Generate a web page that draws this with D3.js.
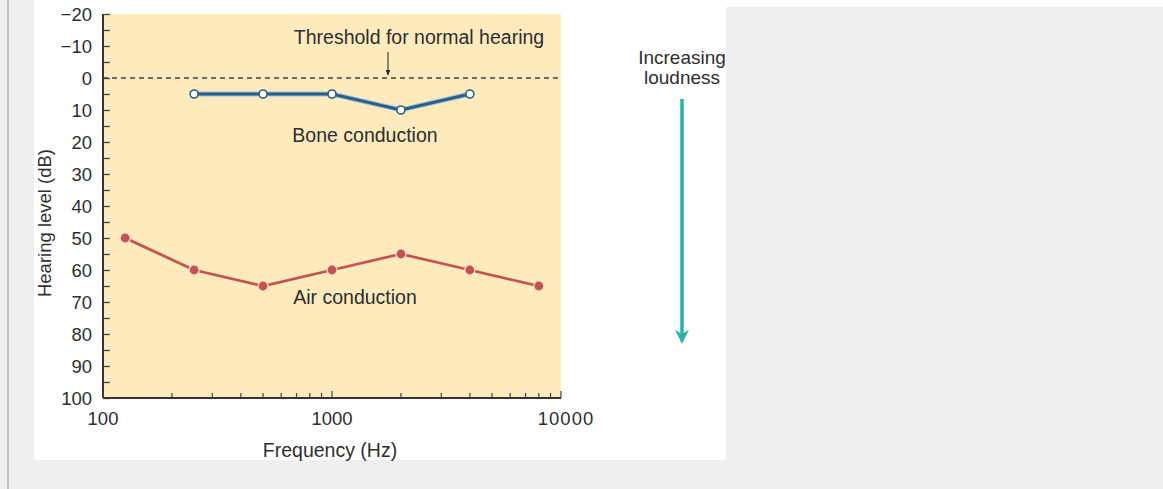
<!DOCTYPE html>
<html><head><meta charset="utf-8">
<script src="https://cdn.jsdelivr.net/npm/d3@7"></script>
<style>
html,body{margin:0;padding:0;background:#efefef;}
svg{display:block;font-family:"Liberation Sans",Arial,sans-serif;}
</style></head>
<body>
<svg id="c" width="1163" height="489"></svg>
<script>
const airFreq = [125, 250, 500, 1000, 2000, 4000, 8000];
const airLevel = [50, 60, 65, 60, 55, 60, 65];
const boneFreq = [250, 500, 1000, 2000, 4000];
const boneLevel = [5, 5, 5, 10, 5];
const yTicks = [-20, -10, 0, 10, 20, 30, 40, 50, 60, 70, 80, 90, 100];
const xTicks = [100, 1000, 10000];

const svg = d3.select("#c");
// page frame
svg.append("rect").attr("x",0).attr("y",0).attr("width",1163).attr("height",489).attr("fill","#efefef");
svg.append("rect").attr("x",34).attr("y",0).attr("width",1129).attr("height",7).attr("fill","#ffffff");
svg.append("rect").attr("x",34).attr("y",0).attr("width",692).attr("height",460).attr("fill","#ffffff");
svg.append("rect").attr("x",7).attr("y",0).attr("width",2).attr("height",489).attr("fill","#c4c4c4");

const x = d3.scaleLog().domain([100, 10000]).range([103, 561]);
const y = d3.scaleLinear().domain([-20, 100]).range([14, 398]);

svg.append("rect").attr("x", x(100)).attr("y", y(-20))
  .attr("width", x(10000) - x(100)).attr("height", y(100) - y(-20)).attr("fill", "#fdebbd");

const TXT = "#2e2e2e";
// y axis
const yAxis = d3.axisRight(y).tickValues(d3.range(-20, 101, 5)).tickSize(7).tickFormat("");
const gy = svg.append("g").attr("transform", `translate(${x(100)},0)`).call(yAxis);
gy.select(".domain").attr("stroke","#333").attr("stroke-width",2).attr("d", `M0,${y(-20)}V${y(100)}`);
gy.selectAll(".tick line").attr("stroke","#444").attr("stroke-width",1.3);
svg.append("g").selectAll("text").data(yTicks).join("text")
  .attr("x", 92).attr("y", d => y(d)).attr("dy","0.36em").attr("text-anchor","end")
  .attr("font-size", 18.5).attr("fill",TXT)
  .text(d => d < 0 ? "\u2212" + Math.abs(d) : d);

// x axis
const minorX = [];
[100, 1000].forEach(b => { for (let k = 2; k <= 9; k++) minorX.push(b * k); });
const gx = svg.append("g").attr("transform", `translate(0,${y(100)})`);
gx.append("line").attr("x1", x(100)).attr("x2", x(10000)).attr("y1",0).attr("y2",0).attr("stroke","#333").attr("stroke-width",2);
gx.selectAll("line.mn").data(minorX).join("line").attr("class","mn")
  .attr("x1", d => x(d)).attr("x2", d => x(d)).attr("y1", 0).attr("y2", -5).attr("stroke","#444").attr("stroke-width",1.2);
gx.selectAll("line.mj").data(xTicks).join("line").attr("class","mj")
  .attr("x1", d => x(d)).attr("x2", d => x(d)).attr("y1", 0).attr("y2", -7).attr("stroke","#444").attr("stroke-width",1.2);
gx.selectAll("text").data(xTicks).join("text")
  .attr("x", d => x(d) + (d === 10000 ? 5 : 0)).attr("y", 20).attr("dy","0.36em").attr("text-anchor","middle")
  .attr("font-size", 18.5).attr("fill",TXT).attr("letter-spacing", d => d === 10000 ? 1 : 0).text(d => d);

// axis titles
svg.append("text").attr("x", 330).attr("y", 450).attr("dy","0.36em").attr("text-anchor","middle")
  .attr("font-size", 19.5).attr("fill",TXT).text("Frequency (Hz)");
svg.append("text").attr("transform","translate(44,223) rotate(-90)").attr("dy","0.36em").attr("text-anchor","middle")
  .attr("font-size", 18.5).attr("fill",TXT).text("Hearing level (dB)");

// threshold line
svg.append("line").attr("x1", x(100)).attr("x2", x(10000)).attr("y1", y(0)).attr("y2", y(0))
  .attr("stroke","#444").attr("stroke-width",1.3).attr("stroke-dasharray","5,4");
svg.append("text").attr("x", 419).attr("y", 37).attr("dy","0.36em").attr("text-anchor","middle")
  .attr("font-size", 19.5).attr("fill",TXT).text("Threshold for normal hearing");
svg.append("defs").html(`<marker id="ah" viewBox="0 0 10 10" refX="9" refY="5" markerWidth="6" markerHeight="6" orient="auto"><path d="M0,1L10,5L0,9z" fill="#222"/></marker>
<marker id="ah2" viewBox="0 0 10 10" refX="8" refY="5" markerWidth="4" markerHeight="4" orient="auto"><path d="M0,0L10,5L0,10L3,5z" fill="#27b3a7"/></marker>`);
svg.append("line").attr("x1", 388).attr("x2", 388).attr("y1", 52).attr("y2", y(0) - 3)
  .attr("stroke","#222").attr("stroke-width",1).attr("marker-end","url(#ah)");

// series
const line = d3.line().x(d => x(d[0])).y(d => y(d[1]));
const bone = boneFreq.map((f,i) => [f, boneLevel[i]]);
const air = airFreq.map((f,i) => [f, airLevel[i]]);

svg.append("path").datum(bone).attr("d", line).attr("fill","none").attr("stroke","#9fc3da").attr("stroke-width",5);
svg.append("path").datum(bone).attr("d", line).attr("fill","none").attr("stroke","#2b5f86").attr("stroke-width",3);
svg.append("g").selectAll("circle").data(bone).join("circle")
  .attr("cx", d => x(d[0])).attr("cy", d => y(d[1])).attr("r", 4)
  .attr("fill","#ffffff").attr("stroke","#2b5f86").attr("stroke-width",1.6);

svg.append("path").datum(air).attr("d", line).attr("fill","none").attr("stroke","#c4524f").attr("stroke-width",2.8);
svg.append("g").selectAll("circle").data(air).join("circle")
  .attr("cx", d => x(d[0])).attr("cy", d => y(d[1])).attr("r", 5)
  .attr("fill","#c4524f").attr("stroke","#f6e0c8").attr("stroke-width",1.2);

svg.append("text").attr("x", 365).attr("y", 135).attr("dy","0.36em").attr("text-anchor","middle")
  .attr("font-size", 19.5).attr("fill",TXT).text("Bone conduction");
svg.append("text").attr("x", 355).attr("y", 297).attr("dy","0.36em").attr("text-anchor","middle")
  .attr("font-size", 19.5).attr("fill",TXT).text("Air conduction");

// loudness arrow
svg.append("text").attr("x", 682).attr("y", 57).attr("dy","0.36em").attr("text-anchor","middle")
  .attr("font-size", 19).attr("fill",TXT).text("Increasing");
svg.append("text").attr("x", 682).attr("y", 77).attr("dy","0.36em").attr("text-anchor","middle")
  .attr("font-size", 19).attr("fill",TXT).text("loudness");
svg.append("line").attr("x1", 682).attr("x2", 682).attr("y1", 99).attr("y2", 341)
  .attr("stroke","#27b3a7").attr("stroke-width",3.5).attr("marker-end","url(#ah2)");
</script>
</body></html>
